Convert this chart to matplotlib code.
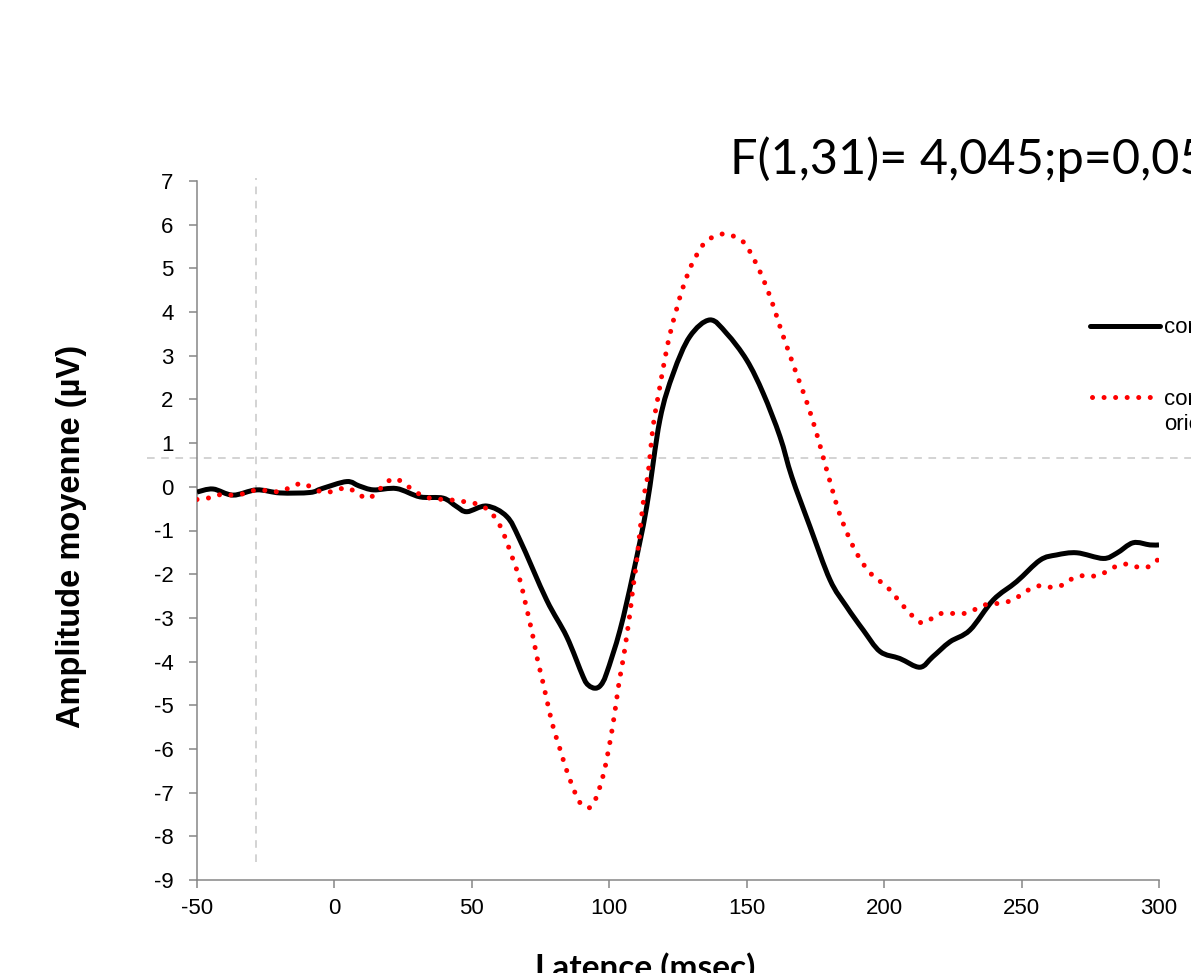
import matplotlib
matplotlib.use('Agg')
import matplotlib.pyplot as plt
from matplotlib.lines import Line2D
from matplotlib.path import Path
from matplotlib.patches import PathPatch

plt.rcParams['axes.unicode_minus'] = False

# latency (ms) / amplitude (uV)
lat_black = [-50, -44.2, -36.9, -28.3, -19.8, -8.9, -4.5, 4.5, 9, 14.2, 22.6, 31.1, 39.6, 44.4,
             48.2, 55.4, 62.7, 67.5, 77.2, 84.5, 90.5, 92.4, 94.8, 96.9, 99.0, 103.9,
             108.7, 113.6, 118.4, 123.3, 129.3, 136.6, 142.7, 150.0, 156.0,
             162.1, 166.4, 173.0, 180.3, 186.3, 192.4, 198.5, 205.7, 213.0, 217.7, 223.9,
             231.2, 239.7, 248.2, 256.7, 262.7, 270.1, 279.7, 284.6, 290.6, 296.7, 300]
amp_black = [-0.12, -0.05, -0.19, -0.07, -0.14, -0.13, -0.04, 0.12, 0.02, -0.07, -0.04, -0.23,
             -0.26, -0.45, -0.57, -0.44, -0.68, -1.22, -2.59, -3.43, -4.35, -4.54,
             -4.61, -4.54, -4.27, -3.28, -1.98, -0.46, 1.53, 2.60, 3.44, 3.82,
             3.51, 2.90, 2.14, 1.15, 0.23, -0.91, -2.13, -2.74, -3.28, -3.77, -3.93, -4.13,
             -3.89, -3.55, -3.28, -2.59, -2.17, -1.68, -1.56, -1.51, -1.64, -1.52, -1.28,
             -1.33, -1.33]

lat_red = [-50, -44.2, -41, -36.9, -32.5, -28.3, -24.1, -19.8, -15.6, -11.6, -7.6, -3.8, 0.2,
           4.5, 8.4, 12.0, 15.4, 18.5, 22.0, 25.7, 29.1, 33.0, 37.0, 41.2, 45.7, 49.7, 53.8,
           57.2, 59.6, 61.5, 64.5, 67.3, 69.3, 72.1, 73.8, 75.8, 77.6, 79.6, 82.1, 84.7,
           87.8, 89.9, 93.0, 95.4, 97.8, 99.6, 101.1, 102.4, 103.6, 105.1, 106.4, 107.6,
           108.6, 109.8, 111.2, 112.7, 114.2, 116.0, 118.2, 120.5, 122.3, 124.5, 126.9,
           130.0, 134.2, 137.8, 141.8, 145.8, 149.4, 153.6, 157.0, 159.9, 162.5, 165.4,
           168.2, 171.2, 173.9, 176.3, 178.5, 180.9, 183.3, 186.4, 190.0, 194.9, 201.5,
           207.0, 213.0, 216.9, 220.7, 229.0, 233.3, 237.3, 241.3, 245.5, 249.2, 252.8,
           257.0, 261.1, 265.2, 268.8, 272.8, 277.0, 281.0, 284.8, 289.0, 293.0, 297.0, 300]
amp_red = [-0.29, -0.24, -0.17, -0.19, -0.15, -0.07, -0.09, -0.11, 0.0, 0.08, -0.04, -0.13,
           -0.09, -0.02, -0.15, -0.27, -0.13, 0.08, 0.19, 0.06, -0.10, -0.23, -0.28, -0.29,
           -0.33, -0.36, -0.44, -0.61, -0.82, -1.06, -1.58, -2.09, -2.61, -3.39, -3.93,
           -4.46, -4.97, -5.50, -6.01, -6.53, -7.04, -7.27, -7.34, -7.09, -6.60, -6.06,
           -5.53, -4.99, -4.46, -3.93, -3.39, -2.86, -2.32, -1.79, -0.99, -0.19, 0.35,
           1.41, 2.22, 3.02, 3.55, 4.07, 4.58, 5.09, 5.55, 5.72, 5.79, 5.72, 5.56, 5.09,
           4.60, 4.10, 3.59, 3.07, 2.57, 2.06, 1.54, 1.03, 0.52, -0.01, -0.53, -1.04,
           -1.52, -1.97, -2.32, -2.73, -3.10, -3.03, -2.90, -2.90, -2.80, -2.69, -2.67,
           -2.62, -2.50, -2.35, -2.26, -2.30, -2.24, -2.09, -2.03, -2.04, -1.94, -1.81,
           -1.77, -1.85, -1.81, -1.64]

xticks = list(range(-50, 301, 50))
yticks = list(range(-9, 8))
labels = ['congruent', 'congruent\norienté']
title = 'F(1,31)= 4,045;p=0,05'

ref_amp = 0.66      # horizontal dashed reference
ref_lat = -28.5     # vertical dashed reference

W, H = 1191, 973
axcol = '#868686'
refcol = '#c8c8c8'
lw_curve = 3.6
dots = (0, (0.01, 2.3))


def fx(px):
    return px / W


def fy(py):
    return 1 - py / H


def smooth_path(xs, ys):
    # excel-like smoothed line: catmull-rom segments drawn as cubic beziers
    pts = list(zip(xs, ys))
    n = len(pts)
    verts = [pts[0]]
    codes = [Path.MOVETO]
    for i in range(n - 1):
        p0 = pts[max(i - 1, 0)]
        p1 = pts[i]
        p2 = pts[i + 1]
        p3 = pts[min(i + 2, n - 1)]
        c1 = (p1[0] + (p2[0] - p0[0]) / 6, p1[1] + (p2[1] - p0[1]) / 6)
        c2 = (p2[0] - (p3[0] - p1[0]) / 6, p2[1] - (p3[1] - p1[1]) / 6)
        verts += [c1, c2, p2]
        codes += [Path.CURVE4] * 3
    return Path(verts, codes)


def main():
    fig = plt.figure(figsize=(W / 100, H / 100), dpi=100)
    ax = fig.add_axes([fx(197), fy(880), fx(1159) - fx(197), fy(181) - fy(880)])

    ax.add_patch(PathPatch(smooth_path(lat_black, amp_black), fill=False, edgecolor='k',
                           lw=lw_curve, joinstyle='round', capstyle='butt', zorder=3))
    ax.add_patch(PathPatch(smooth_path(lat_red, amp_red), fill=False, edgecolor='#ff0000',
                           lw=lw_curve, linestyle=dots, capstyle='round', zorder=4))

    ax.axhline(ref_amp, xmin=-0.052, xmax=1.1, color=refcol, lw=1.1,
               linestyle=(0, (5, 4.3)), clip_on=False, zorder=1)
    ax.axvline(ref_lat, ymin=0.026, ymax=1.004, color=refcol, lw=1.1,
               linestyle=(0, (5, 4.3)), clip_on=False, zorder=1)

    ax.set_xlim(-50, 300)
    ax.set_ylim(-9, 7)
    ax.set_xticks(xticks)
    ax.set_yticks(yticks)
    for s in ['top', 'right']:
        ax.spines[s].set_visible(False)
    for s in ['left', 'bottom']:
        ax.spines[s].set_color(axcol)
        ax.spines[s].set_linewidth(1.1)
    ax.tick_params(axis='both', direction='out', length=6, width=1.1, color=axcol,
                   labelsize=16, labelcolor='k')
    ax.tick_params(axis='x', pad=7)
    ax.tick_params(axis='y', pad=11)
    for lab in ax.get_xticklabels() + ax.get_yticklabels():
        lab.set_family('Liberation Sans')

    fig.text(fx(72), fy(536), 'Amplitude moyenne (µV)', rotation=90, ha='center',
             va='center', fontsize=23.5, fontweight='bold', family='Liberation Sans')
    fig.text(fx(645), fy(978), 'Latence (msec)', ha='center', va='baseline',
             fontsize=24, fontweight='bold', family='Lato')
    fig.text(fx(730), fy(174), title, ha='left', va='baseline', fontsize=35, family='Lato')

    # legend, sits mostly past the right edge as in the original
    fig.add_artist(Line2D([fx(1090), fx(1160)], [fy(326), fy(326)], color='k', lw=lw_curve,
                          solid_capstyle='round'))
    fig.add_artist(Line2D([fx(1092), fx(1156)], [fy(397), fy(397)], color='#ff0000',
                          lw=lw_curve, linestyle=dots, dash_capstyle='round'))
    fig.text(fx(1164), fy(327), labels[0], ha='left', va='center', fontsize=16,
             family='Liberation Sans')
    fig.text(fx(1164), fy(412), labels[1], ha='left', va='center', fontsize=16,
             family='Liberation Sans', linespacing=1.3)

    fig.savefig('out.png', dpi=100)


if __name__ == '__main__':
    main()
